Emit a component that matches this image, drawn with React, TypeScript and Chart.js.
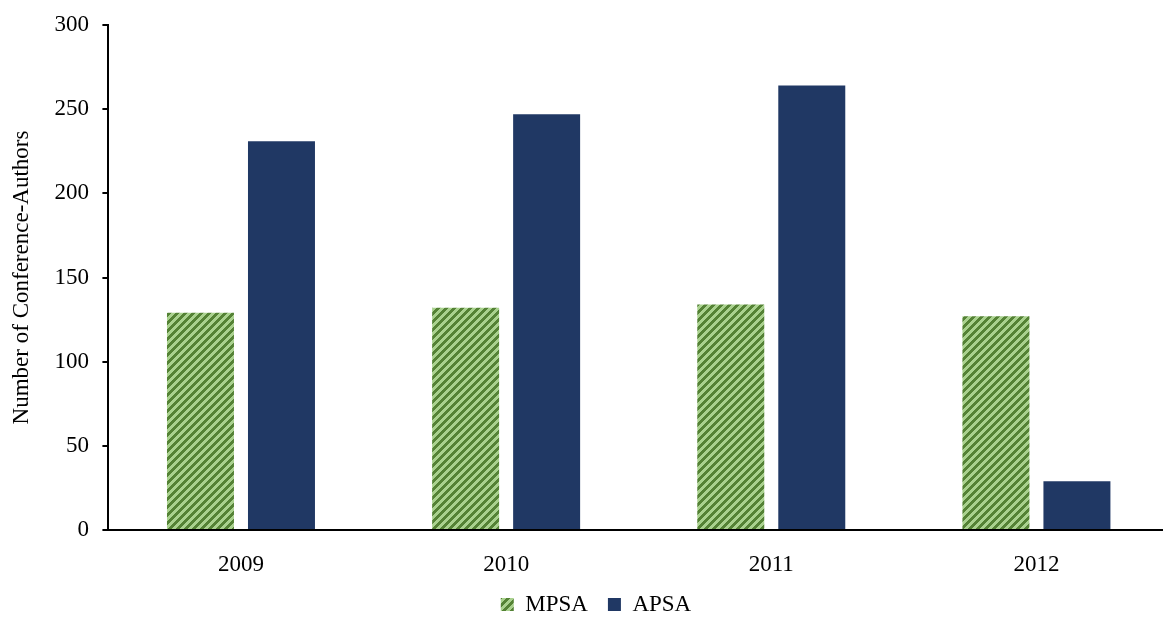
import React, { useEffect, useRef } from "react";
import { Chart, registerables } from "chart.js";

Chart.register(...registerables);

const categories = ["2009", "2010", "2011", "2012"];
const mpsaValues = [129, 132, 134, 127];
const apsaValues = [231, 247, 264, 29];
const seriesLabels = ["MPSA", "APSA"];
const yAxisTitle = "Number of Conference-Authors";
const yMin = 0;
const yMax = 300;
const yStep = 50;

const FONT = "'Liberation Serif', 'Times New Roman', serif";

function makeStripePattern(ctx: CanvasRenderingContext2D) {
  const tile = document.createElement("canvas");
  tile.width = 8;
  tile.height = 8;
  const t = tile.getContext("2d")!;
  t.fillStyle = "#a9d18e";
  t.fillRect(0, 0, 8, 8);
  t.fillStyle = "#548235";
  for (let y = 0; y < 8; y++) {
    for (let x = 0; x < 8; x++) {
      if ((x + y) % 8 < 4) t.fillRect(x, y, 1, 1);
    }
  }
  return ctx.createPattern(tile, "repeat")!;
}

export default function App() {
  const canvasRef = useRef<HTMLCanvasElement | null>(null);

  useEffect(() => {
    const canvas = canvasRef.current;
    if (!canvas) return;
    const ctx = canvas.getContext("2d")!;
    const pattern = makeStripePattern(ctx);
    const font = { family: FONT, size: 23 };

    const chart = new Chart(canvas, {
      type: "bar",
      data: {
        labels: categories,
        datasets: [
          {
            label: seriesLabels[0],
            data: mpsaValues,
            backgroundColor: pattern as any,
            borderWidth: 0,
            categoryPercentage: 0.611,
            barPercentage: 0.827,
          },
          {
            label: seriesLabels[1],
            data: apsaValues,
            backgroundColor: "#203864",
            borderWidth: 0,
            categoryPercentage: 0.611,
            barPercentage: 0.827,
          },
        ],
      },
      options: {
        responsive: false,
        animation: false,
        layout: { padding: { left: 23, right: 0, top: 20, bottom: 0 } },
        plugins: {
          legend: {
            position: "bottom",
            maxHeight: 45,
            labels: {
              boxWidth: 13,
              boxHeight: 13,
              padding: 20,
              color: "#000",
              font,
            },
          },
          tooltip: { enabled: false },
        },
        scales: {
          x: {
            grid: { display: false },
            border: { display: true, color: "#000", width: 2 },
            ticks: { color: "#000", font, padding: 13 },
            afterFit: (s: any) => {
              s.height = 43;
            },
          },
          y: {
            min: yMin,
            max: yMax,
            ticks: {
              stepSize: yStep,
              color: "#000",
              font: { family: FONT, size: 23, lineHeight: 1 },
              padding: 13.5,
            },
            grid: {
              drawOnChartArea: false,
              drawTicks: true,
              tickLength: 6,
              color: "#000",
              lineWidth: 2,
            },
            border: { display: true, color: "#000", width: 2 },
            title: {
              display: true,
              text: yAxisTitle,
              color: "#000",
              font,
              padding: { top: -14.8, bottom: 0 },
            },
            afterFit: (s: any) => {
              s.width = 85.4;
            },
          },
        },
      },
    });
    return () => chart.destroy();
  }, []);

  return (
    <div
      style={{
        position: "absolute",
        left: 0,
        top: 0,
        width: 1163,
        height: 618,
        overflow: "hidden",
        background: "#fff",
      }}
    >
      <canvas ref={canvasRef} width={1169} height={618} style={{ display: "block" }} />
    </div>
  );
}
